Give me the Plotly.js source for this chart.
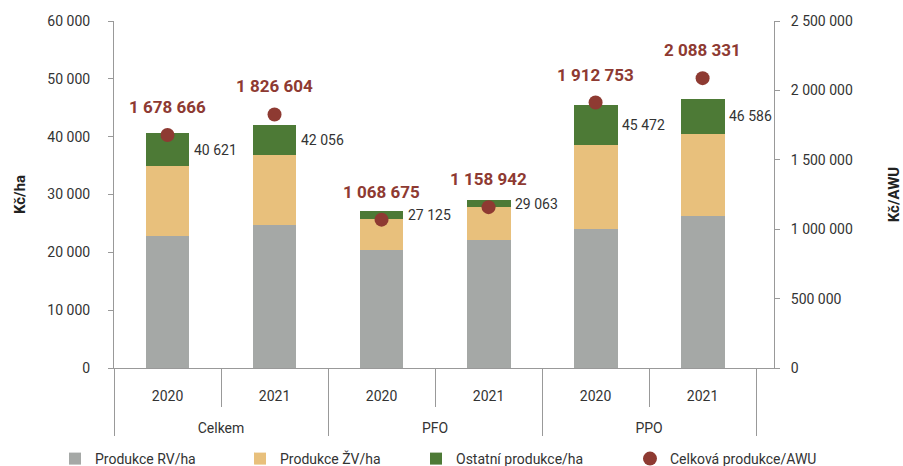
<!DOCTYPE html>
<html><head><meta charset="utf-8">
<script src="https://cdn.plot.ly/plotly-3.0.1.min.js"></script>
<style>body{margin:0;background:#fff}</style>
</head><body><div id="chart" style="width:903px;height:466px"></div>
<script>
const groups = ["Celkem","Celkem","PFO","PFO","PPO","PPO"];
const years = ["2020","2021","2020","2021","2020","2021"];
const rv = [22800, 24700, 20400, 22200, 24000, 26300];
const zv = [12100, 12100, 5400, 5600, 14600, 14200];
const ostatni = [5721, 5256, 1325, 1263, 6872, 6086];
const totals = [40621, 42056, 27125, 29063, 45472, 46586];
const awu = [1678666, 1826604, 1068675, 1158942, 1912753, 2088331];

function fmt(n){ return String(n).replace(/\B(?=(\d{3})+(?!\d))/g, ' '); }

const FONT = 'Roboto, "DejaVu Sans", sans-serif';
const x = [groups, years];
const traces = [
  {type:'bar', name:'Produkce RV/ha', x:x, y:rv, marker:{color:'#a5a8a6'}, legend:'legend'},
  {type:'bar', name:'Produkce ŽV/ha', x:x, y:zv, marker:{color:'#e8c07c'}, legend:'legend2'},
  {type:'bar', name:'Ostatní produkce/ha', x:x, y:ostatni, marker:{color:'#4d7a36'}, legend:'legend3'},
  {type:'scatter', mode:'markers', name:'Celková produkce/AWU', x:x, y:awu, yaxis:'y2',
   marker:{color:'#8e3a32', size:14}, legend:'legend4'},
  // carries the category boundaries for the separator ticks between years
  {type:'scatter', mode:'none', x:x, y:totals, xaxis:'x2', showlegend:false, hoverinfo:'skip'}
];
const annotations = [];
awu.forEach((v,i)=>annotations.push({x:i, y:v, xref:'x', yref:'y2', text:fmt(v), showarrow:false,
  yshift:28, font:{family:FONT, size:17, color:'#8e3a32', weight:'bold'}}));
totals.forEach((v,i)=>annotations.push({x:i+0.2, y:rv[i]+zv[i]+ostatni[i]/2, xref:'x', yref:'y',
  text:fmt(v), showarrow:false, xanchor:'left', xshift:3, font:{family:FONT, size:14, color:'#333'}}));

function leg(px){ return {orientation:'h', xref:'container', yref:'container', x:px/903, xanchor:'left',
  y:(466-459)/466, yanchor:'middle', font:{size:14, color:'#333'}, bgcolor:'rgba(0,0,0,0)'}; }

const layout = {
  width:903, height:466,
  margin:{l:114, r:129, t:21, b:98, autoexpand:false},
  paper_bgcolor:'#ffffff', plot_bgcolor:'#ffffff',
  font:{family:FONT, size:14, color:'#333'},
  separators:', ',
  barmode:'stack', bargap:0.59,
  showlegend:true,
  legend:leg(55), legend2:leg(240), legend3:leg(416), legend4:leg(630),
  xaxis:{type:'multicategory', showline:true, linecolor:'#999', ticks:'outside', tickson:'labels',
    ticklen:29, tickcolor:'rgba(0,0,0,0)', showdividers:true, dividercolor:'#999', dividerwidth:1,
    ticklabelstandoff:-14, tickfont:{size:14, color:'#333'}},
  xaxis2:{type:'multicategory', overlaying:'x', matches:'x', side:'bottom', showline:false,
    ticks:'outside', tickson:'boundaries', ticklen:38, tickcolor:'#999', showticklabels:false,
    showdividers:false, showgrid:false},
  yaxis:{range:[0,60000], dtick:10000, tickformat:',d', showgrid:false, zeroline:false,
    showline:true, linecolor:'#999', ticks:'outside', ticklen:5, tickcolor:'#999', ticklabelstandoff:15,
    tickfont:{size:14, color:'#333'},
    title:{text:'Kč/ha', font:{size:15, color:'#222', weight:'bold'}, standoff:18}},
  yaxis2:{range:[0,2500000], dtick:500000, tickformat:',d', overlaying:'y', side:'right',
    showgrid:false, zeroline:false, showline:true, linecolor:'#999', ticks:'outside', ticklen:5,
    tickcolor:'#999', ticklabelstandoff:8, tickfont:{size:14, color:'#333'},
    title:{text:'Kč/AWU', font:{size:15, color:'#222', weight:'bold'}, standoff:40}},
  annotations:annotations
};
Plotly.newPlot('chart', traces, layout, {displayModeBar:false, staticPlot:true});
</script></body></html>
